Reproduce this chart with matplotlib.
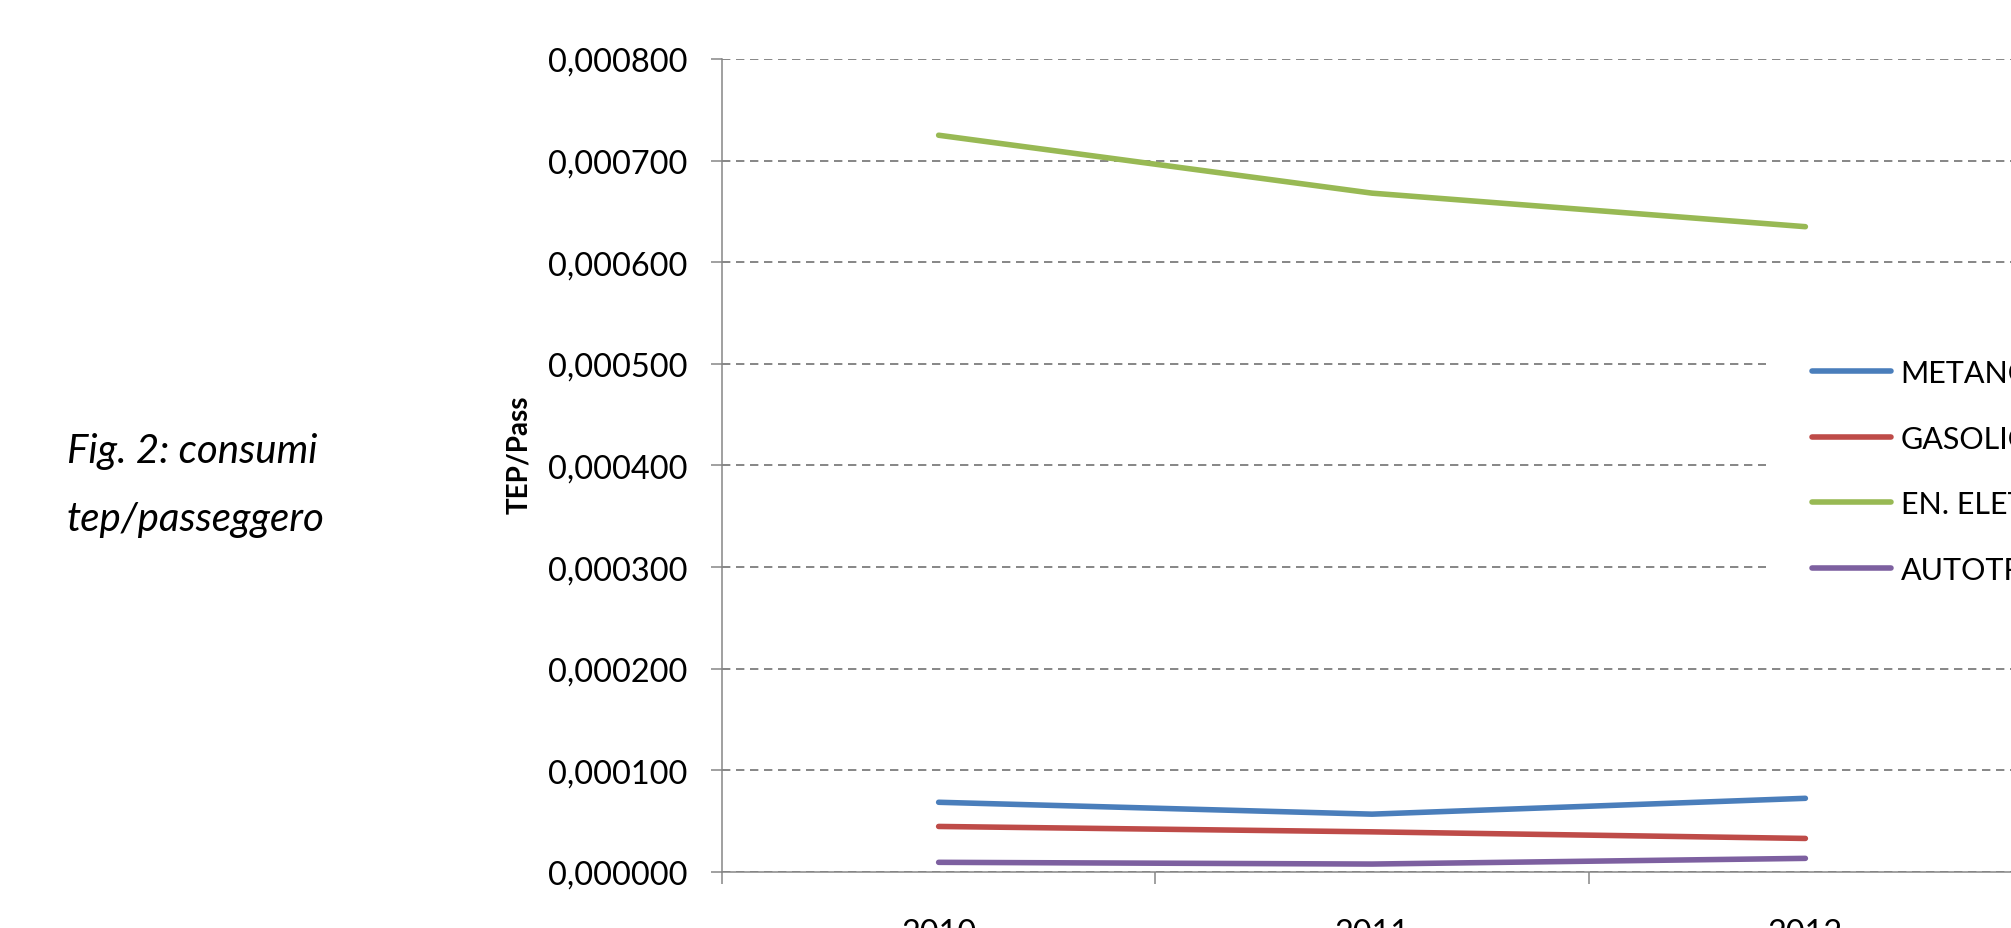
import matplotlib
matplotlib.use("Agg")
import matplotlib.pyplot as plt
from matplotlib.patches import Rectangle
from matplotlib.ticker import FuncFormatter

# ---- data ----
years = ["2010", "2011", "2012"]
metano = [0.0000686, 0.0000569, 0.0000725]
gasolio = [0.0000448, 0.0000395, 0.0000330]
en_elettrica = [0.000725, 0.000668, 0.000635]
autotrazione = [0.0000095, 0.0000078, 0.0000134]

series_names = ["METANO", "GASOLIO", "EN. ELETTRICA", "AUTOTRAZIONE"]
series_values = [metano, gasolio, en_elettrica, autotrazione]
series_colors = ["#4A7EBB", "#BE4B48", "#98B954", "#7D60A0"]

plt.rcParams['font.family'] = ['Lato', 'DejaVu Sans']
AXIS_GREY = "#868686"

fig = plt.figure(figsize=(20.11, 9.29), dpi=100)
# axes runs past the right edge of the picture, like the cropped original
ax = fig.add_axes([0.359, 0.0603, 1.0055 - 0.359, 0.9354 - 0.0603])

x = list(range(len(years)))
for name, vals, col in zip(series_names, series_values, series_colors):
    ax.plot(x, vals, color=col, lw=4, label=name, solid_capstyle='round', zorder=3)

ax.set_xlim(-0.5, len(years) - 0.5)
ax.set_ylim(0, 0.0008)
ax.set_yticks([i * 0.0001 for i in range(9)])
ax.yaxis.set_major_formatter(FuncFormatter(lambda v, p: f"{v:.6f}".replace('.', ',')))

# tick marks between categories, labels at category centres
ax.set_xticks([i - 0.5 for i in range(len(years) + 1)])
ax.set_xticklabels([])
ax.set_xticks(x, minor=True)
ax.set_xticklabels(years, minor=True)
ax.tick_params(axis='x', which='major', length=8.6, width=1.1, color=AXIS_GREY, direction='out')
ax.tick_params(axis='x', which='minor', length=0, pad=33, labelsize=23.4)
ax.tick_params(axis='y', length=8, width=1.1, color=AXIS_GREY, direction='out', pad=17, labelsize=23.4)

ax.grid(axis='y', color=AXIS_GREY, lw=1.4, linestyle=(0, (4.3, 2.9)), zorder=1)
ax.set_axisbelow(True)

for side in ['top', 'right']:
    ax.spines[side].set_visible(False)
for side in ['left', 'bottom']:
    ax.spines[side].set_color(AXIS_GREY)
    ax.spines[side].set_linewidth(1.1)

# white legend area that hides the gridlines behind the legend
ax.add_patch(Rectangle((0.878, 0.33), 0.2, 0.335, transform=fig.transFigure,
                       facecolor='white', edgecolor='none', zorder=2, clip_on=False))

leg = ax.legend(loc='upper left', bbox_to_anchor=(0.901, 0.6125), bbox_transform=fig.transFigure,
                borderaxespad=0, borderpad=0, fontsize=22, handlelength=2.6,
                handletextpad=0.3, labelspacing=1.23, frameon=False)

fig.text(0.258, 0.51, "TEP/Pass", rotation=90, fontsize=20, fontweight='bold',
         ha='center', va='center')

fig.text(0.0333, 0.5145, "Fig. 2: consumi", fontsize=29, style='italic', ha='left', va='center')
fig.text(0.0333, 0.4413, "tep/passeggero", fontsize=29, style='italic', ha='left', va='center')

fig.savefig("out.png", dpi=100)
